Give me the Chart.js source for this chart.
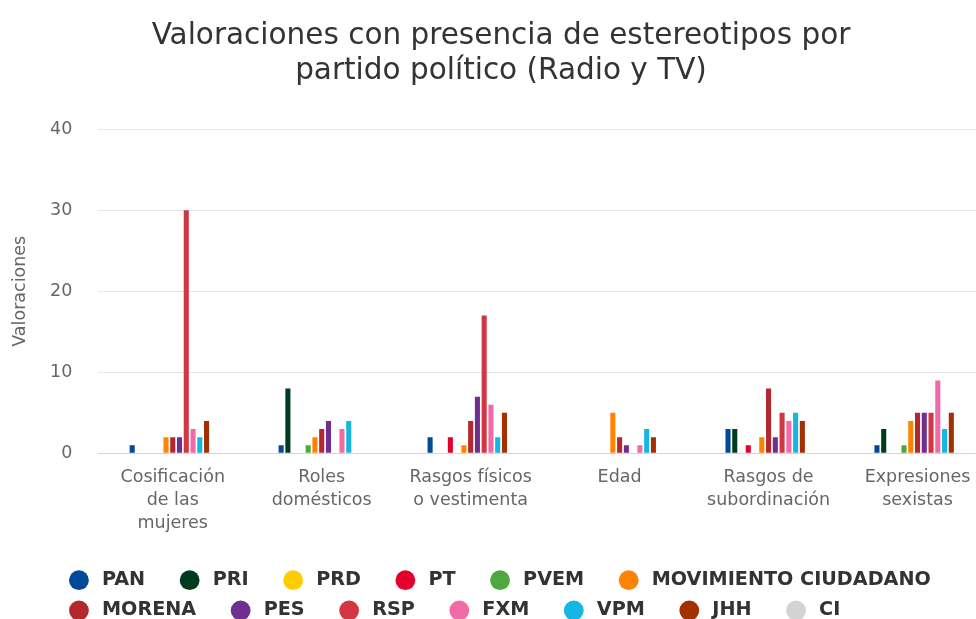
<!DOCTYPE html>
<html>
<head>
<meta charset="utf-8">
<script src="https://cdn.jsdelivr.net/npm/chart.js@4"></script>
<style>
  html, body { margin: 0; padding: 0; background: #fff; overflow: hidden; }
  #wrap { position: relative; width: 1000px; height: 619px; }
</style>
</head>
<body>
<div id="wrap"><canvas id="chart"></canvas></div>
<script>
// categorias y partidos
const categories = [
  ["Cosificación", "de las", "mujeres"],
  ["Roles", "domésticos"],
  ["Rasgos físicos", "o vestimenta"],
  ["Edad"],
  ["Rasgos de", "subordinación"],
  ["Expresiones", "sexistas"]
];
const parties = ["PAN", "PRI", "PRD", "PT", "PVEM", "MOVIMIENTO CIUDADANO", "MORENA", "PES", "RSP", "FXM", "VPM", "JHH", "CI"];
const partyColors = ["#004a97", "#003a1f", "#ffcc00", "#e4002b", "#4fa83d", "#ff8300", "#b3282d", "#702f8f", "#d13642", "#f06aa8", "#14b7e3", "#a33000", "#d5d2d2"];

// valoraciones por partido (una entrada por categoria)
const PAN  = [1, 1, 2, 0, 3, 1];
const PRI  = [0, 8, 0, 0, 3, 3];
const PRD  = [0, 0, 0, 0, 0, 0];
const PT   = [0, 0, 2, 0, 1, 0];
const PVEM = [0, 1, 0, 0, 0, 1];
const MC   = [2, 2, 1, 5, 2, 4];
const MORENA = [2, 3, 4, 2, 8, 5];
const PES  = [2, 4, 7, 1, 2, 5];
const RSP  = [30, 0, 17, 0, 5, 5];
const FXM  = [3, 3, 6, 1, 4, 9];
const VPM  = [2, 4, 2, 3, 5, 3];
const JHH  = [4, 0, 5, 2, 4, 5];
const CI   = [0, 0, 0, 0, 0, 0];
const seriesValues = [PAN, PRI, PRD, PT, PVEM, MC, MORENA, PES, RSP, FXM, VPM, JHH, CI];

const yTicks = [0, 10, 20, 30, 40];

const canvas = document.getElementById('chart');
canvas.width = 1000;
canvas.height = 619;

const datasets = parties.map((p, i) => ({
  label: p,
  data: seriesValues[i],
  backgroundColor: partyColors[i],
  borderWidth: 0,
  categoryPercentage: 0.59,
  barPercentage: 0.75
}));

// filas de la leyenda alineadas a la izquierda como en el original
const legendRows = {
  id: 'legendRows',
  afterUpdate(chart) {
    const lg = chart.legend;
    if (!lg || !lg.lineWidths) return;
    const w = Math.max(...lg.lineWidths);
    lg.lineWidths = lg.lineWidths.map(() => w - 22);
  }
};

const font = "'DejaVu Sans', 'Open Sans', sans-serif";

new Chart(canvas, {
  type: 'bar',
  data: { labels: categories, datasets: datasets },
  plugins: [legendRows],
  options: {
    responsive: false,
    animation: false,
    devicePixelRatio: 1,
    layout: { padding: { left: 10, right: 8, top: 0, bottom: -11 } },
    plugins: {
      title: {
        display: true,
        text: ["Valoraciones con presencia de estereotipos por", "partido político (Radio y TV)"],
        color: '#333333',
        font: { family: font, size: 29.5, weight: 'normal', lineHeight: 1.19 },
        padding: { top: 19, bottom: 40 }
      },
      legend: {
        position: 'bottom',
        labels: {
          usePointStyle: true,
          pointStyle: 'circle',
          boxHeight: 14,
          color: '#333333',
          padding: 11,
          font: { family: font, size: 19.2, weight: 'bold' },
          generateLabels(chart) {
            const items = Chart.defaults.plugins.legend.labels.generateLabels(chart);
            items.forEach(it => { it.text = '\u2009' + it.text + '   \u2009'; });
            return items;
          }
        }
      },
      tooltip: { enabled: false }
    },
    scales: {
      x: {
        grid: { display: false },
        border: { color: '#ccd6eb', width: 1 },
        afterFit: s => { s.height += 20; },
        ticks: {
          color: '#666666',
          maxRotation: 0,
          autoSkip: false,
          padding: 5,
          font: { family: font, size: 17.5, lineHeight: 1.3 }
        }
      },
      y: {
        min: 0,
        max: 40,
        afterBuildTicks: axis => { axis.ticks = yTicks.map(v => ({ value: v })); },
        grid: { color: '#e6e6e6', drawTicks: false },
        border: { display: false },
        ticks: {
          color: '#666666',
          padding: 26,
          font: { family: font, size: 17.5 }
        },
        title: {
          display: true,
          text: 'Valoraciones',
          color: '#666666',
          padding: { top: 0, bottom: -7 },
          font: { family: font, size: 17.5 }
        }
      }
    }
  }
});
</script>
</body>
</html>
